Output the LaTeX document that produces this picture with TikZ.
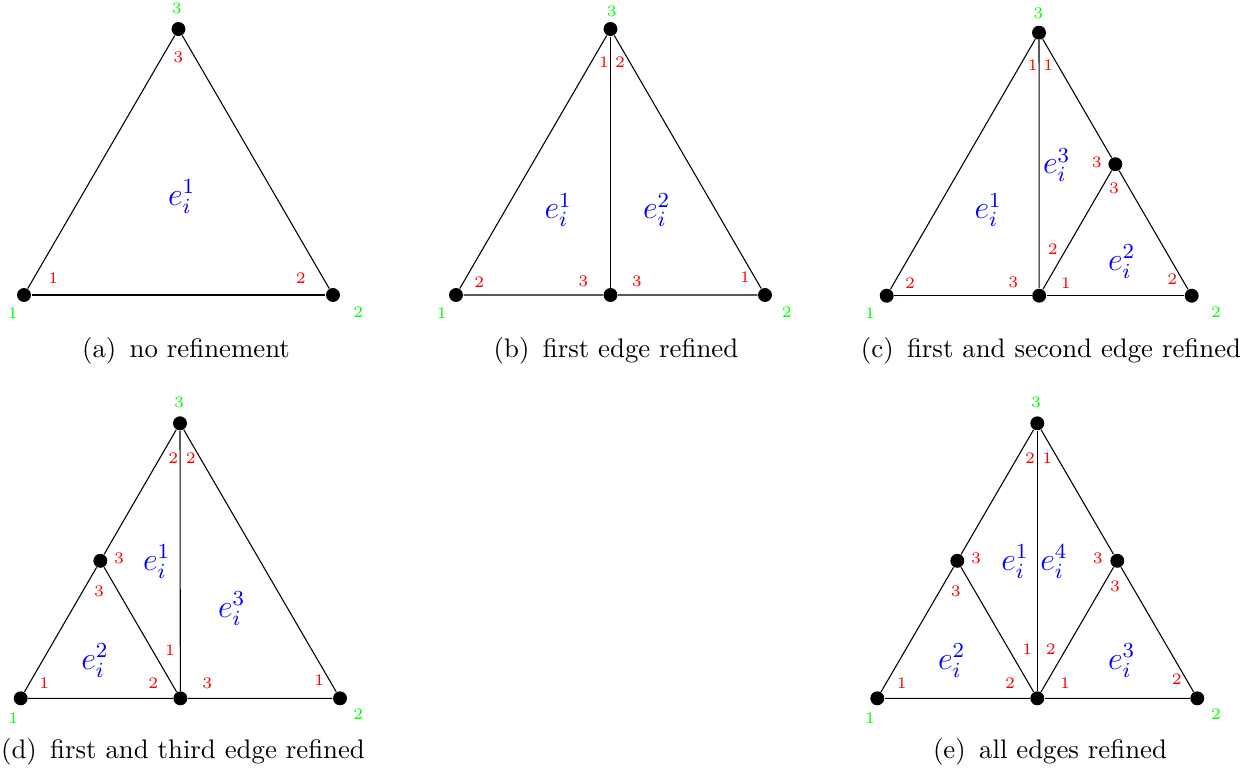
\documentclass[tikz,border=0pt]{standalone}
\usepackage{amsmath}
\usepackage{xcolor}
\usepackage{tikz}
\usetikzlibrary{calc,positioning}

\begin{document}
\begin{tikzpicture}[
    x=0.3731pt, y=-0.3731pt,
    vertex/.style={circle, fill=black, inner sep=0pt, minimum size=5.2pt},
    gnum/.style={text=green, font=\fontsize{6}{7}\selectfont, inner sep=0pt},
    lnum/.style={text=red, font=\fontsize{6}{7}\selectfont, inner sep=0pt},
    elem/.style={text=blue, font=\large, inner sep=0pt},
    subcap/.style={anchor=base, inner sep=0pt},
    meshline/.style={line width=0.4pt}
]
\useasboundingbox (0,0) rectangle (1248,775);

% (a) no refinement
\node[vertex] (a1) at (24,295) {};
\node[vertex] (a2) at (333,295) {};
\node[vertex] (a3) at (178.5,29) {};
\draw[meshline] (a1) -- (a2);
\draw[meshline] (a2) -- (a3);
\draw[meshline] (a3) -- (a1);
\node[gnum] (ga1) at (12.7,313) {1};
\node[gnum] (ga2) at (358.3,311.7) {2};
\node[gnum] (ga3) at (176.7,8.3) {3};
\node[lnum] at (53.3,278.3) {1};
\node[lnum] at (300.7,278.3) {2};
\node[lnum] at (178.3,57.3) {3};
\node[elem] (ea1) at (181.7,196.7) {$e_i^1$};
\node[subcap] (capa) at (186,357) {(a)\, no refinement};

% (b) first edge refined
\node[vertex] (b1) at (456,295) {};
\node[vertex] (b2) at (765,295) {};
\node[vertex] (b3) at (610.5,29) {};
\node[vertex] (b4) at ($(b1)!0.5!(b2)$) {};
\draw[meshline] (b1) -- (b4);
\draw[meshline] (b4) -- (b2);
\draw[meshline] (b2) -- (b3);
\draw[meshline] (b3) -- (b1);
\draw[meshline] (b3) -- (b4);
\node[gnum] (gb1) at (441.7,313.3) {1};
\node[gnum] (gb2) at (786.7,311.7) {2};
\node[gnum] (gb3) at (611.7,11.7) {3};
\node[lnum] at (604,61.7) {1};
\node[lnum] at (620,61.7) {2};
\node[lnum] at (479.3,281.7) {2};
\node[lnum] at (583.3,281.7) {3};
\node[lnum] at (636.7,281.7) {3};
\node[lnum] at (745,277.3) {1};
\node[elem] (eb1) at (558.3,210) {$e_i^1$};
\node[elem] (eb2) at (656.7,210) {$e_i^2$};
\node[subcap] (capb) at (616,357) {(b)\, first edge refined};

% (c) first and second edge refined
\node[vertex] (c1) at (886.7,295.7) {};
\node[vertex] (c2) at (1191.7,295.7) {};
\node[vertex] (c3) at (1039,32.7) {};
\node[vertex] (c4) at ($(c1)!0.5!(c2)$) {};
\node[vertex] (c5) at ($(c2)!0.5!(c3)$) {};
\draw[meshline] (c1) -- (c4);
\draw[meshline] (c4) -- (c2);
\draw[meshline] (c2) -- (c5);
\draw[meshline] (c5) -- (c3);
\draw[meshline] (c3) -- (c1);
\draw[meshline] (c3) -- (c4);
\draw[meshline] (c4) -- (c5);
\node[gnum] (gc1) at (870,313.3) {1};
\node[gnum] (gc2) at (1216,311.7) {2};
\node[gnum] (gc3) at (1038.3,13.3) {3};
\node[lnum] at (1032.7,65) {1};
\node[lnum] at (1048.3,65) {1};
\node[lnum] at (1096.7,162.7) {3};
\node[lnum] at (1114,188.3) {3};
\node[lnum] at (1052.7,249.3) {2};
\node[lnum] at (910,282.7) {2};
\node[lnum] at (1013.3,282.7) {3};
\node[lnum] at (1065.7,282.7) {1};
\node[lnum] at (1172.3,279.3) {2};
\node[elem] (ec3) at (1056.7,165) {$e_i^3$};
\node[elem] (ec1) at (988.3,210) {$e_i^1$};
\node[elem] (ec2) at (1121.7,261.7) {$e_i^2$};
\node[subcap] (capc) at (1051,357) {(c)\, first and second edge refined};

% (d) first and third edge refined
\node[vertex] (d1) at (20.7,698.3) {};
\node[vertex] (d2) at (340,698.3) {};
\node[vertex] (d3) at (180,423.3) {};
\node[vertex] (d4) at ($(d1)!0.5!(d2)$) {};
\node[vertex] (d5) at ($(d1)!0.5!(d3)$) {};
\draw[meshline] (d1) -- (d4);
\draw[meshline] (d4) -- (d2);
\draw[meshline] (d2) -- (d3);
\draw[meshline] (d3) -- (d5);
\draw[meshline] (d5) -- (d1);
\draw[meshline] (d3) -- (d4);
\draw[meshline] (d5) -- (d4);
\node[gnum] (gd1) at (13.3,718.3) {1};
\node[gnum] (gd2) at (358.3,714) {2};
\node[gnum] (gd3) at (179,402.7) {3};
\node[lnum] at (173.3,458.3) {2};
\node[lnum] at (190.7,458.3) {2};
\node[lnum] at (119,558.3) {3};
\node[lnum] at (99,591.7) {3};
\node[lnum] at (170,650) {1};
\node[lnum] at (44.3,683.3) {1};
\node[lnum] at (153.3,683.3) {2};
\node[lnum] at (207.3,683.3) {3};
\node[lnum] at (319.3,680) {1};
\node[elem] (ed1) at (156.7,561.7) {$e_i^1$};
\node[elem] (ed3) at (231.7,608.3) {$e_i^3$};
\node[elem] (ed2) at (95,660.7) {$e_i^2$};
\node[subcap] (capd) at (183,758) {(d)\, first and third edge refined};

% (e) all edges refined
\node[vertex] (e1) at (877.3,698.3) {};
\node[vertex] (e2) at (1197.3,698.3) {};
\node[vertex] (e3) at (1037.3,423.3) {};
\node[vertex] (e4) at ($(e1)!0.5!(e2)$) {};
\node[vertex] (e5) at ($(e1)!0.5!(e3)$) {};
\node[vertex] (e6) at ($(e2)!0.5!(e3)$) {};
\draw[meshline] (e1) -- (e4);
\draw[meshline] (e4) -- (e2);
\draw[meshline] (e2) -- (e6);
\draw[meshline] (e6) -- (e3);
\draw[meshline] (e3) -- (e5);
\draw[meshline] (e5) -- (e1);
\draw[meshline] (e3) -- (e4);
\draw[meshline] (e5) -- (e4);
\draw[meshline] (e6) -- (e4);
\node[gnum] (ge1) at (870,718.3) {1};
\node[gnum] (ge2) at (1216,714) {2};
\node[gnum] (ge3) at (1036,402.7) {3};
\node[lnum] at (1030,458.3) {2};
\node[lnum] at (1047.3,458.3) {1};
\node[lnum] at (976,558.3) {3};
\node[lnum] at (955.7,591.7) {3};
\node[lnum] at (1097.7,558.3) {3};
\node[lnum] at (1115,586.7) {3};
\node[lnum] at (1027.3,649.3) {1};
\node[lnum] at (1050.7,649.3) {2};
\node[lnum] at (901.7,683.3) {1};
\node[lnum] at (1010,683.3) {2};
\node[lnum] at (1065,683.3) {1};
\node[lnum] at (1176.7,679.3) {2};
\node[elem] (ee1) at (1015,561.7) {$e_i^1$};
\node[elem] (ee4) at (1054,561.7) {$e_i^4$};
\node[elem] (ee2) at (951.7,660.7) {$e_i^2$};
\node[elem] (ee3) at (1121.7,660.7) {$e_i^3$};
\node[subcap] (cape) at (1050,758) {(e)\, all edges refined};
\end{tikzpicture}
\end{document}
